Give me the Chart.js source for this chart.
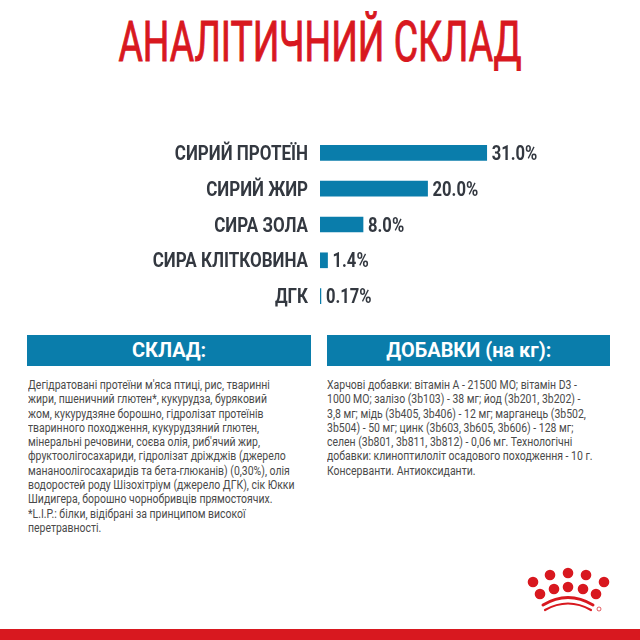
<!DOCTYPE html>
<html>
<head>
<meta charset="utf-8">
<script src="https://cdn.jsdelivr.net/npm/chart.js@4"></script>
<style>
html, body { margin: 0; padding: 0; background: #fff; }
#page { position: relative; width: 640px; height: 640px; overflow: hidden; font-family: Roboto, sans-serif; }
#title { position: absolute; left: 0; top: 10px; width: 640px; text-align: center; font-size: 56px; line-height: 64px; color: #d8181f; white-space: nowrap; transform: scaleX(0.667); -webkit-text-stroke: 1px #d8181f; }
#chartBox { position: absolute; left: 0; top: 135px; width: 640px; height: 179px; }
.head { position: absolute; top: 335px; height: 31px; line-height: 31px; background: #0a7dab; color: #fff; text-align: center; font-weight: bold; font-size: 21px; white-space: nowrap; }
.head span { display: inline-block; transform: scaleX(0.95); }
.body { position: absolute; top: 378px; font-size: 12px; line-height: 14.3px; color: #4a4a4a; white-space: nowrap; transform: scaleX(0.872); transform-origin: left top; }
#footer { position: absolute; left: 0; top: 629px; width: 640px; height: 11px; background: #d8181f; }
#logo { position: absolute; left: 0; top: 0; }
</style>
</head>
<body>
<div id="page">
    <div id="title">АНАЛІТИЧНИЙ СКЛАД</div>
    <div id="chartBox"><canvas id="analysisChart" width="640" height="179"></canvas></div>

    <div class="head" style="left:27px;width:284px;"><span>СКЛАД:</span></div>
    <div class="body" style="left:28px;">Дегідратовані протеїни м'яса птиці, рис, тваринні<br>жири, пшеничний глютен*, кукурудза, буряковий<br>жом, кукурудзяне борошно, гідролізат протеїнів<br>тваринного походження, кукурудзяний глютен,<br>мінеральні речовини, соєва олія, риб'ячий жир,<br>фруктоолігосахариди, гідролізат дріжджів (джерело<br>мананоолігосахаридів та бета-глюканів) (0,30%), олія<br>водоростей роду Шізохітріум (джерело ДГК), сік Юкки<br>Шидигера, борошно чорнобривців прямостоячих.<br>*L.I.P.: білки, відібрані за принципом високої<br>перетравності.</div>

    <div class="head" style="left:327px;width:283px;"><span>ДОБАВКИ (на кг):</span></div>
    <div class="body" style="left:327px;">Харчові добавки: вітамін А - 21500 МО; вітамін D3 -<br>1000 МО; залізо (3b103) - 38 мг; йод (3b201, 3b202) -<br>3,8 мг; мідь (3b405, 3b406) - 12 мг; марганець (3b502,<br>3b504) - 50 мг; цинк (3b603, 3b605, 3b606) - 128 мг;<br>селен (3b801, 3b811, 3b812) - 0,06 мг. Технологічні<br>добавки: клиноптилоліт осадового походження - 10 г.<br>Консерванти. Антиоксиданти.</div>

    <svg id="logo" width="640" height="640" fill="#d8181f">
        <circle cx="533" cy="582" r="5.3"/><circle cx="550" cy="575" r="5.3"/><circle cx="568" cy="573" r="5.3"/><circle cx="586" cy="575" r="5.3"/><circle cx="604" cy="582" r="5.3"/>
        <circle cx="540" cy="594" r="5.3"/><circle cx="554" cy="589" r="5.3"/><circle cx="568" cy="587" r="5.3"/><circle cx="583" cy="589" r="5.3"/><circle cx="596" cy="594" r="5.3"/>
        <path d="M543 605 Q568 590 593 605" fill="none" stroke="#d8181f" stroke-width="3" stroke-linecap="round"/>
        <path d="M545 610 Q568 597 591 610" fill="none" stroke="#d8181f" stroke-width="2.2" stroke-linecap="round"/>
        <circle cx="599" cy="609" r="2" fill="none" stroke="#d8181f" stroke-width="0.7"/>
    </svg>
    <div id="footer"></div>
</div>

<script>
const categories = ["СИРИЙ ПРОТЕЇН", "СИРИЙ ЖИР", "СИРА ЗОЛА", "СИРА КЛІТКОВИНА", "ДГК"];
const values = [31.0, 20.0, 8.0, 1.4, 0.17];
const valueLabels = ["31.0%", "20.0%", "8.0%", "1.4%", "0.17%"];

// No condensed font installed, so squeeze the text horizontally
function narrowText(ctx, text, x, y, squeeze) {
    ctx.save();
    ctx.translate(x, y);
    ctx.scale(squeeze, 1);
    ctx.fillText(text, 0, 0);
    ctx.restore();
}

// Category names and percent labels
const barLabels = {
    id: "barLabels",
    afterDatasetsDraw(chart) {
        const ctx = chart.ctx;
        const bars = chart.getDatasetMeta(0).data;
        const yScale = chart.scales.y;
        ctx.save();
        ctx.font = "bold 20px Roboto";
        ctx.fillStyle = "#333840";
        ctx.textBaseline = "middle";
        bars.forEach(function (bar, i) {
            ctx.textAlign = "right";
            narrowText(ctx, categories[i], 308, yScale.getPixelForValue(i) + 2, 0.85);
            ctx.textAlign = "left";
            narrowText(ctx, valueLabels[i], bar.x + 5, bar.y + 2, 0.83);
        });
        ctx.restore();
    }
};

new Chart(document.getElementById("analysisChart"), {
    type: "bar",
    data: {
        labels: categories,
        datasets: [{
            data: values,
            backgroundColor: "#0a7dab",
            barThickness: 15
        }]
    },
    options: {
        indexAxis: "y",
        responsive: false,
        animation: false,
        layout: { padding: 0 },
        plugins: { legend: { display: false }, tooltip: { enabled: false } },
        scales: {
            x: { display: false, min: 0, max: 59.5 },
            y: {
                afterFit(scale) { scale.width = 320; },
                grid: { display: false },
                border: { display: false },
                ticks: { display: false }
            }
        }
    },
    plugins: [barLabels]
});
</script>
</body>
</html>
